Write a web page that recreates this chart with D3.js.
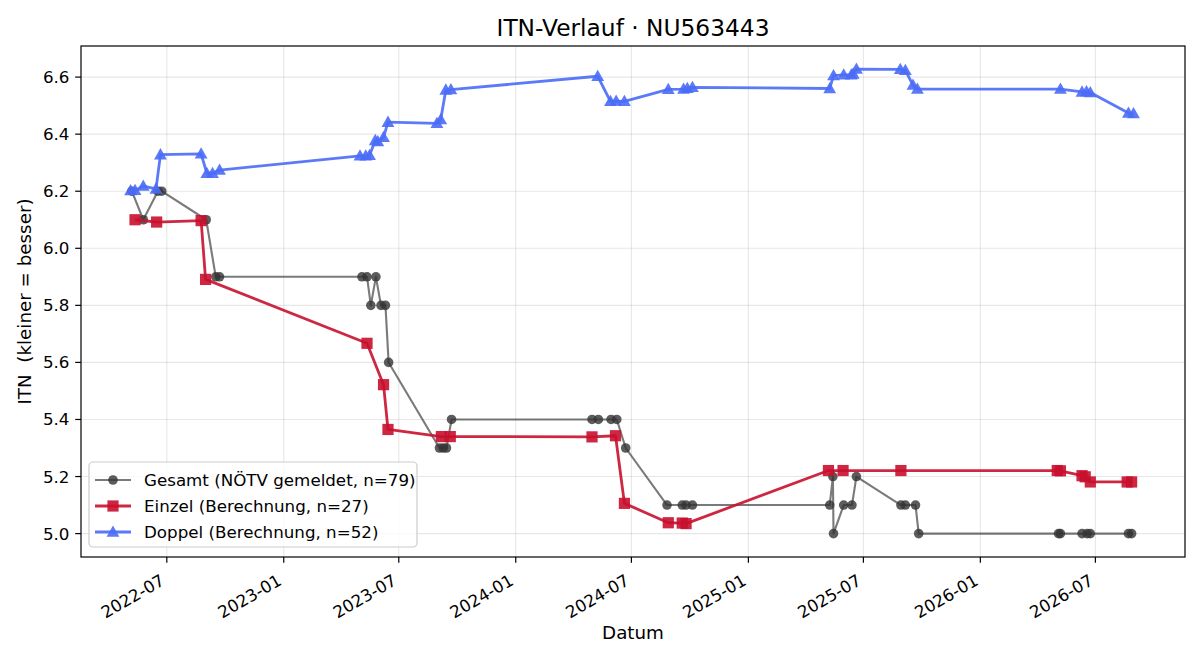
<!DOCTYPE html>
<html><head><meta charset="utf-8">
<script src="https://cdn.jsdelivr.net/npm/d3@7"></script>
<style>body{margin:0;background:#fff}svg{display:block}text{font-family:"DejaVu Sans",sans-serif;white-space:pre}</style>
</head><body><svg id="c" width="1200" height="660"></svg>
<script>
// ---- data ----
const gesamtDates = ["2022-05-07","2022-05-25","2022-06-17","2022-06-23","2022-09-01","2022-09-16","2022-09-22",
 "2023-05-04","2023-05-12","2023-05-18","2023-05-26","2023-06-03","2023-06-10","2023-06-15","2023-09-03","2023-09-09","2023-09-14","2023-09-22",
 "2024-04-30","2024-05-10","2024-05-30","2024-06-08","2024-06-22","2024-08-26","2024-09-19","2024-09-25","2024-10-05",
 "2025-05-09","2025-05-14","2025-05-15","2025-05-31","2025-06-13","2025-06-20","2025-08-29","2025-09-05","2025-09-21","2025-09-26",
 "2026-05-04","2026-05-07","2026-06-10","2026-06-18","2026-06-23","2026-08-22","2026-08-27"];
const gesamtValues = [6.2,6.1,6.2,6.2,6.1,5.9,5.9,
 5.9,5.9,5.8,5.9,5.8,5.8,5.6,5.3,5.3,5.3,5.4,
 5.4,5.4,5.4,5.4,5.3,5.1,5.1,5.1,5.1,
 5.1,5.2,5.0,5.1,5.1,5.2,5.1,5.1,5.1,5.0,
 5.0,5.0,5.0,5.0,5.0,5.0,5.0];

const einzelDates = ["2022-05-12","2022-06-15","2022-08-24","2022-08-31",
 "2023-05-12","2023-06-07","2023-06-14","2023-09-06","2023-09-20",
 "2024-04-30","2024-06-06","2024-06-20","2024-08-28","2024-09-19","2024-09-25",
 "2025-05-07","2025-05-30","2025-08-29",
 "2026-05-02","2026-05-07","2026-06-10","2026-06-15","2026-06-23","2026-08-20","2026-08-27"];
const einzelValues = [6.100,6.092,6.097,5.891,
 5.667,5.522,5.365,5.340,5.340,
 5.339,5.343,5.106,5.038,5.037,5.035,
 5.221,5.221,5.221,
 5.221,5.220,5.203,5.199,5.181,5.181,5.181];

const doppelDates = ["2022-05-05","2022-05-12","2022-05-25","2022-06-14","2022-06-21","2022-08-24","2022-09-02","2022-09-11","2022-09-22",
 "2023-05-01","2023-05-10","2023-05-16","2023-05-25","2023-05-29","2023-06-07","2023-06-14","2023-08-30","2023-09-05","2023-09-13","2023-09-21",
 "2024-05-09","2024-05-29","2024-06-07","2024-06-20","2024-08-28","2024-09-21","2024-09-27","2024-10-05",
 "2025-05-09","2025-05-15","2025-05-31","2025-06-12","2025-06-15","2025-06-20","2025-08-28","2025-09-05","2025-09-17","2025-09-24",
 "2026-05-07","2026-06-10","2026-06-17","2026-06-23","2026-08-22","2026-08-30"];
const doppelValues = [6.202,6.203,6.218,6.208,6.328,6.331,6.263,6.263,6.274,
 6.324,6.324,6.326,6.378,6.374,6.389,6.442,6.438,6.451,6.555,6.556,
 6.603,6.515,6.516,6.515,6.557,6.558,6.561,6.564,
 6.560,6.605,6.608,6.608,6.611,6.628,6.627,6.624,6.572,6.558,
 6.558,6.548,6.549,6.546,6.474,6.472];

const yTicks = [5.0,5.2,5.4,5.6,5.8,6.0,6.2,6.4,6.6];
const seriesNames = ["Gesamt (NÖTV gemeldet, n=79)","Einzel (Berechnung, n=27)","Doppel (Berechnung, n=52)"];
const xDomain = ["2022-02-16","2026-11-19"];
const yDomain = [4.918, 6.709];

// ---- layout ----
const L=81,R=1185,T=46,B=557;
const parse=d3.utcParse("%Y-%m-%d");
const svg=d3.select("#c");
const x=d3.scaleUtc().domain(xDomain.map(parse)).range([L,R]);
const y=d3.scaleLinear().domain(yDomain).range([B,T]);
const xTicks=x.ticks(d3.utcMonth.every(6));

const mk=(ds,vs)=>ds.map((d,i)=>({x:parse(d),y:vs[i]}));
const G=mk(gesamtDates,gesamtValues), E=mk(einzelDates,einzelValues), D=mk(doppelDates,doppelValues);

// grid
const grid=svg.append("g").attr("stroke","#b0b0b0").attr("stroke-opacity",0.3).attr("stroke-width",1.1);
grid.selectAll(".gx").data(xTicks).join("line").attr("x1",d=>x(d)).attr("x2",d=>x(d)).attr("y1",T).attr("y2",B);
grid.selectAll(".gy").data(yTicks).join("line").attr("x1",L).attr("x2",R).attr("y1",d=>y(d)).attr("y2",d=>y(d));

const line=d3.line().x(d=>x(d.x)).y(d=>y(d.y));
const styles=[
 {data:G,color:"#333333",op:0.65,mop:0.8,lw:2.1,shape:"circle"},
 {data:E,color:"#c8102e",op:0.9,mop:0.9,lw:2.8,shape:"square"},
 {data:D,color:"#4a6cf7",op:0.9,mop:0.9,lw:2.8,shape:"triangle"}
];
function drawMarker(g,shape,cx,cy,color,op){
  if(shape==="circle") g.append("circle").attr("cx",cx).attr("cy",cy).attr("r",4.8).attr("fill",color).attr("fill-opacity",op);
  else if(shape==="square") g.append("rect").attr("x",cx-5.6).attr("y",cy-5.6).attr("width",11.2).attr("height",11.2).attr("fill",color).attr("fill-opacity",op);
  else g.append("path").attr("d",`M${cx},${cy-6.6}L${cx+6.4},${cy+4.7}L${cx-6.4},${cy+4.7}Z`).attr("fill",color).attr("fill-opacity",op);
}
const plot=svg.append("g");
styles.forEach(s=>{
  const g=plot.append("g");
  g.append("path").datum(s.data).attr("d",line).attr("fill","none").attr("stroke",s.color).attr("stroke-opacity",s.op).attr("stroke-width",s.lw).attr("stroke-linejoin","round");
  s.data.forEach(d=>drawMarker(g,s.shape,x(d.x),y(d.y),s.color,s.mop));
});

// spines
svg.append("rect").attr("x",L).attr("y",T).attr("width",R-L).attr("height",B-T).attr("fill","none").attr("stroke","#000").attr("stroke-width",1.2);

// x axis ticks
const fmtX=d3.utcFormat("%Y-%m");
const xa=svg.append("g");
xTicks.forEach(t=>{
  const px=x(t);
  xa.append("line").attr("x1",px).attr("x2",px).attr("y1",B).attr("y2",B+5.8).attr("stroke","#000").attr("stroke-width",1.2);
  xa.append("text").attr("transform",`translate(${px-1},${B+27}) rotate(-30)`).attr("text-anchor","end").attr("font-size",16.7).attr("fill","#000").text(fmtX(t));
});
// y axis ticks
const ya=svg.append("g");
yTicks.forEach(t=>{
  const py=y(t);
  ya.append("line").attr("x1",L-5.8).attr("x2",L).attr("y1",py).attr("y2",py).attr("stroke","#000").attr("stroke-width",1.2);
  ya.append("text").attr("x",L-11.5).attr("y",py+6).attr("text-anchor","end").attr("font-size",16.7).attr("fill","#000").text(d3.format(".1f")(t));
});

// labels
svg.append("text").attr("x",(L+R)/2).attr("y",36).attr("text-anchor","middle").attr("font-size",23.3).text("ITN-Verlauf · NU563443");
svg.append("text").attr("x",(L+R)/2).attr("y",639).attr("text-anchor","middle").attr("font-size",18.3).text("Datum");
svg.append("text").attr("transform",`translate(31,${(T+B)/2}) rotate(-90)`).attr("text-anchor","middle").attr("font-size",18.3).attr("xml:space","preserve").text("ITN  (kleiner = besser)");

// legend
const lg=svg.append("g");
lg.append("rect").attr("x",89).attr("y",462).attr("width",328).attr("height",85).attr("rx",4).attr("fill","#fff").attr("fill-opacity",0.8).attr("stroke","#cccccc").attr("stroke-width",1.2);
styles.forEach((s,i)=>{
  const ry=480+i*26;
  lg.append("line").attr("x1",95).attr("x2",131).attr("y1",ry).attr("y2",ry).attr("stroke",s.color).attr("stroke-opacity",s.op).attr("stroke-width",s.lw);
  drawMarker(lg,s.shape,113,ry,s.color,s.mop);
  lg.append("text").attr("x",144).attr("y",ry+6).attr("font-size",16.7).text(seriesNames[i]);
});
</script></body></html>
